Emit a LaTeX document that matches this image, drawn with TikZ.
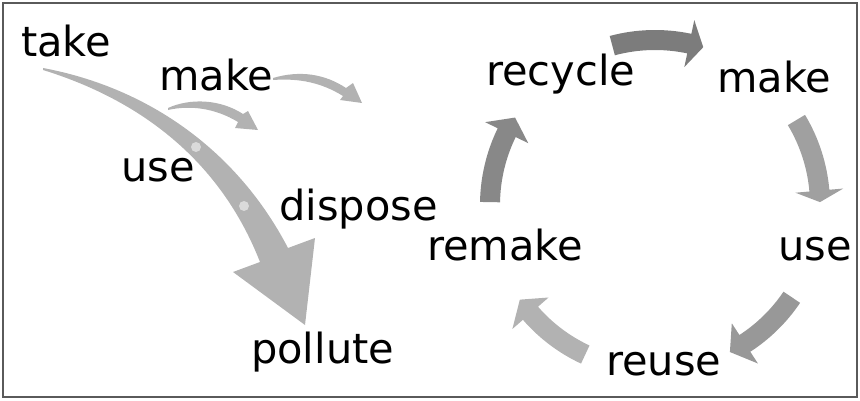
\documentclass[tikz,border=0pt]{standalone}
\usepackage{fontspec}
\setmainfont{DejaVu Sans}
\usetikzlibrary{calc}
\definecolor{ceFlow}{RGB}{178,178,178}
\definecolor{ceDot}{RGB}{218,218,218}
\definecolor{ceTop}{RGB}{124,124,124}
\definecolor{ceRight}{RGB}{160,160,160}
\definecolor{ceLow}{RGB}{152,152,152}
\definecolor{ceBack}{RGB}{178,178,178}
\definecolor{ceLeft}{RGB}{136,136,136}
\definecolor{ceFrame}{RGB}{90,90,90}
% one curved arrow on the ring: tail angle, head base angle, tip angle, colour
\newcommand{\ringarr}[4]{%
  \fill[#4] ($(rc)+(#1:175pt)$) arc[start angle=#1, end angle=#2, radius=175pt]
    -- ($(rc)+(#2:189pt)$) -- ($(rc)+(#3:165pt)$) -- ($(rc)+(#2:141pt)$)
    -- ($(rc)+(#2:155pt)$) arc[start angle=#2, end angle=#1, radius=155pt] -- cycle;}

\begin{document}
\begin{tikzpicture}[
  x=1pt, y=1pt,
  lbl/.style={anchor=base west, inner sep=0pt, font=\fontsize{41.5}{50}\selectfont}
]
\useasboundingbox (0,0) rectangle (860,400);
\draw[ceFrame, line width=1.2pt] (3,3) rectangle (857,397);

% linear economy
\fill[ceFlow] (43,332) .. controls (150,312) and (238,248) .. (288,152)
  -- (315,162) -- (305,75) -- (233,128) -- (260,138)
  .. controls (220,240) and (140,300) .. (43,330) -- cycle;
\fill[ceDot] (196,253) circle (5);
\fill[ceDot] (244,194) circle (5);
\fill[ceFlow] (168,292) .. controls (190,302) and (220,301) .. (243,286)
  -- (248,289) -- (258,270) -- (235,272) -- (238,278)
  .. controls (215,292) and (190,295) .. (168,290) -- cycle;
\fill[ceFlow] (273,322) .. controls (300,330) and (325,326) .. (346,312)
  -- (353,317) -- (362,297) -- (340,300) -- (343,304)
  .. controls (322,317) and (300,322) .. (273,320) -- cycle;

\node[lbl] (take) at (21,343) {take};
\node[lbl] (lmake) at (159,309) {make};
\node[lbl] (luse) at (121,219) {use};
\node[lbl] (dispose) at (279,180) {dispose};
\node[lbl] (pollute) at (251,37) {pollute};

% circular economy
\coordinate (rc) at (655,195);
\ringarr{105}{78}{73}{ceTop}
\ringarr{31}{5}{1}{ceRight}
\ringarr{-34}{-57}{-63}{ceLow}
\ringarr{-115}{-139}{-145}{ceBack}
\ringarr{179}{154}{148}{ceLeft}

\node[lbl] (recycle) at (486,315) {recycle};
\node[lbl] (rmake) at (717,308) {make};
\node[lbl] (ruse) at (778,140) {use};
\node[lbl] (remake) at (427,140) {remake};
\node[lbl] (reuse) at (606,25) {reuse};
\end{tikzpicture}
\end{document}
